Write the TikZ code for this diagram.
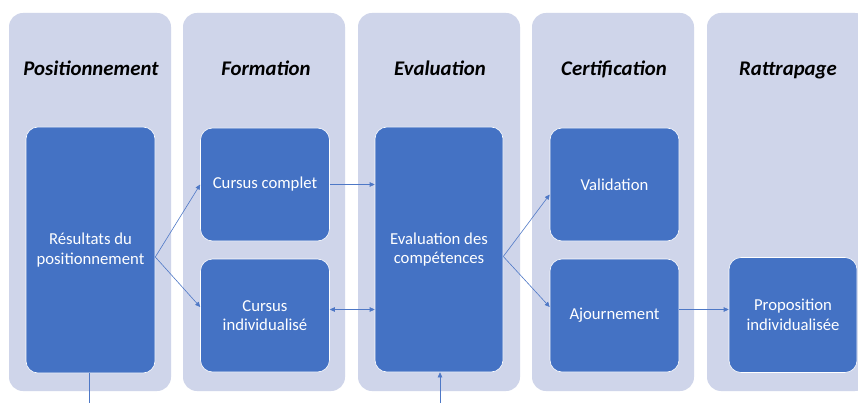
\documentclass[tikz,border=0pt]{standalone}
\usepackage{fontspec}
\setmainfont{Carlito}
\usetikzlibrary{arrows.meta,calc}
\definecolor{lanebg}{HTML}{CFD5EA}
\definecolor{darkbl}{HTML}{4472C4}
\definecolor{arrowc}{HTML}{4E78C6}
\tikzset{
  lane/.style={fill=lanebg, draw=none, rounded corners=14pt, minimum width=162pt, minimum height=378pt, inner sep=0pt},
  lanetitle/.style={font=\fontsize{20.8}{25}\selectfont\bfseries\itshape, text=black, inner sep=0pt, anchor=base},
  stepbox/.style={fill=darkbl, draw=white, line width=0.6pt, rounded corners=12pt, text=white, align=center,
    font=\fontsize{16.7}{19.5}\selectfont, inner sep=0pt, minimum width=129pt},
  conn/.style={draw=arrowc, line width=0.6pt, -{Triangle[length=5pt,width=4.5pt]}},
  conn2/.style={draw=arrowc, line width=0.6pt, {Triangle[length=5pt,width=4.5pt]}-{Triangle[length=5pt,width=4.5pt]}},
  plainln/.style={draw=arrowc, line width=0.6pt}
}
\begin{document}
\begin{tikzpicture}[x=1pt,y=-1pt]
\clip (0,0) rectangle (858,403);
\fill[white] (0,0) rectangle (858,403);
% lanes
\node[lane] (l1) at (90,202) {};
\node[lane] (l2) at (264,202) {};
\node[lane] (l3) at (439,202) {};
\node[lane] (l4) at (613,202) {};
\node[lane] (l5) at (788,202) {};
% titles
\node[lanetitle] (t1) at (91,75.5) {Positionnement};
\node[lanetitle] (t2) at (266,75.5) {Formation};
\node[lanetitle] (t3) at (440,75.5) {Evaluation};
\node[lanetitle] (t4) at (614,75.5) {Certification};
\node[lanetitle] (t5) at (788,75.5) {Rattrapage};
% boxes
\node[stepbox, minimum height=246pt] (res) at (90.5,250) {Résultats du\\positionnement};
\node[stepbox, minimum height=113pt] (cc) at (265,184.5) {Cursus complet};
\node[stepbox, minimum height=113pt] (ci) at (265,315.5) {Cursus\\individualisé};
\node[stepbox, minimum height=245pt, minimum width=128pt] (ev) at (439,249.5) {Evaluation des\\compétences};
\node[stepbox, minimum height=113pt] (val) at (614.5,184.5) {Validation};
\node[stepbox, minimum height=113pt] (aj) at (614.5,315.5) {Ajournement};
\node[stepbox, minimum height=115pt, minimum width=128pt] (prop) at (793,315) {Proposition\\individualisée};
% connectors
\draw[conn] ([yshift=-7pt]res.east) -- (cc.west);
\draw[conn] ([yshift=-7pt]res.east) -- ([yshift=8.5pt]ci.west);
\draw[conn] (cc.east) -- (cc.east -| ev.west);
\draw[conn2] ([yshift=6pt]ci.east) -- ([yshift=6pt]ci.east -| ev.west);
\draw[conn] ([yshift=-7pt]ev.east) -- ([yshift=-10pt]val.west);
\draw[conn] ([yshift=-7pt]ev.east) -- ([yshift=8.5pt]aj.west);
\draw[conn] ([yshift=6pt]aj.east) -- ([yshift=6pt]aj.east -| prop.west);
\coordinate (b1) at (89,403);
\coordinate (b2) at (440,403);
\draw[plainln] (res.south -| b1) -- (b1);
\draw[conn] (b2) -- (b2 |- ev.south);
\end{tikzpicture}
\end{document}
